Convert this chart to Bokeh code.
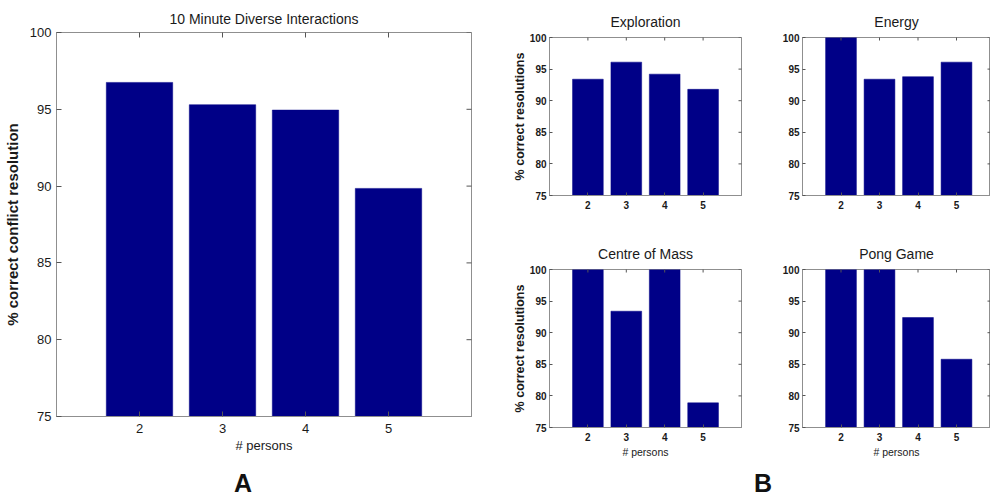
import math

from bokeh.plotting import figure
from bokeh.models import FixedTicker, Range1d, Title, Label
from bokeh.layouts import column, row
from bokeh.embed import file_html
from bokeh.resources import INLINE

# ---- data -------------------------------------------------------------
persons = [2, 3, 4, 5]
x_ticks = [2, 3, 4, 5]
y_ticks = [75, 80, 85, 90, 95, 100]

diverse_10min = [96.75, 95.3, 94.95, 89.85]

exploration = [93.4, 96.1, 94.2, 91.8]
energy = [100.0, 93.4, 93.8, 96.1]
centre_of_mass = [100.0, 93.4, 100.0, 78.9]
pong_game = [100.0, 100.0, 92.4, 85.8]

# ---- style ------------------------------------------------------------
BAR = "#000087"
FRAME = "#8f8f8f"
TICK = "#555555"
TEXT = "#1a1a1a"
SANS = "Liberation Sans"
Y0, Y1 = 75, 100


def style_axes(p, x_end, sizes, xlabel, ylabel, tick_len, x_standoff,
               y_standoff, ylabel_standoff, tick_bold):
    """MATLAB style boxed axes with inward ticks on all four sides."""
    tick_px, xlabel_px, ylabel_px = sizes
    p.x_range = Range1d(1, x_end)
    p.y_range = Range1d(Y0, Y1)
    for ax in p.axis:
        ax.major_tick_in = tick_len
        ax.major_tick_out = 0
        ax.minor_tick_line_color = None
        ax.axis_line_color = FRAME
        ax.major_tick_line_color = TICK
        ax.major_label_text_color = TEXT
        ax.major_label_text_font = SANS
        ax.major_label_text_font_size = tick_px
        ax.major_label_text_font_style = "bold" if tick_bold else "normal"
    p.xaxis.ticker = FixedTicker(ticks=x_ticks)
    p.yaxis.ticker = FixedTicker(ticks=y_ticks)
    p.xaxis.major_label_standoff = x_standoff
    p.yaxis.major_label_standoff = y_standoff
    if xlabel:
        p.xaxis.axis_label = xlabel
        p.xaxis.axis_label_text_font = SANS
        p.xaxis.axis_label_text_font_size = xlabel_px
        p.xaxis.axis_label_text_font_style = "normal"
        p.xaxis.axis_label_text_color = TEXT
        p.xaxis.axis_label_standoff = 2
    if ylabel:
        p.yaxis.axis_label = ylabel
        p.yaxis.axis_label_text_font = SANS
        p.yaxis.axis_label_text_font_size = ylabel_px
        p.yaxis.axis_label_text_font_style = "bold"
        p.yaxis.axis_label_text_color = TEXT
        p.yaxis.axis_label_standoff = ylabel_standoff
    p.outline_line_color = FRAME
    p.grid.visible = False
    # inward tick marks on the top and right edges (half of each dash is
    # clipped away by the frame)
    p.scatter(x=x_ticks, y=[Y1] * len(x_ticks), marker="dash",
              angle=math.pi / 2, size=2 * tick_len, line_color=TICK,
              line_width=1)
    p.scatter(x=[x_end] * len(y_ticks), y=y_ticks, marker="dash",
              size=2 * tick_len, line_color=TICK, line_width=1)


def panel(width, height, borders, title, title_px, title_gap, values,
          x_end=6.0, xlabel=None, ylabel=None, big=False):
    left, right, top, bottom = borders
    p = figure(width=width, height=height, output_backend="svg",
               toolbar_location=None, min_border_left=left,
               min_border_right=right, min_border_top=top,
               min_border_bottom=bottom, background_fill_color="white",
               border_fill_color="white")
    p.vbar(x=persons, top=values, bottom=Y0, width=0.8, fill_color=BAR,
           line_color=BAR, line_width=0.5)
    if big:
        style_axes(p, x_end, ("13px", "13px", "15px"), xlabel, ylabel,
                   5, 7, 5, 6, False)
    else:
        style_axes(p, x_end, ("10px", "10.5px", "12.5px"), xlabel, ylabel,
                   3, 5, 3, 0, True)
    p.title = Title(text=title, text_font=SANS, text_font_size=title_px,
                    text_font_style="normal", text_color=TEXT,
                    align="center", standoff=title_gap)
    return p


# Panel A: the long diverse-interaction run
fig_a = panel(490, 460, (51, 19, 32, 44), "10 Minute Diverse Interactions",
              "14px", 12, diverse_10min, xlabel="# persons",
              ylabel="% correct conflict resolution", big=True)

# Panel B: the four individual games
fig_expl = panel(285, 232, (59, 34, 37, 37), "Exploration", "14px", 15,
                 exploration, ylabel="% correct resolutions")
fig_energy = panel(215, 232, (27, 0, 37, 37), "Energy", "14px", 15, energy,
                   x_end=1 + 188 / 38.5)
fig_com = panel(285, 228, (59, 34, 37, 33), "Centre of Mass", "14px", 15,
                centre_of_mass, xlabel="# persons",
                ylabel="% correct resolutions")
fig_pong = panel(215, 228, (27, 0, 37, 33), "Pong Game", "14px", 15,
                 pong_game, x_end=1 + 188 / 38.5, xlabel="# persons")

# Strip carrying the panel letters
strip = figure(width=990, height=38, output_backend="svg",
               toolbar_location=None, min_border=0,
               x_range=Range1d(0, 990), y_range=Range1d(38, 0))
strip.axis.visible = False
strip.grid.visible = False
strip.outline_line_color = None
for letter, lx in (("A", 242.5), ("B", 762.5)):
    strip.add_layout(Label(x=lx, y=22, text=letter, text_font=SANS,
                           text_font_size="25px", text_font_style="bold",
                           text_color="#111111", text_align="center",
                           text_baseline="middle"))

layout = column(
    row(fig_a, column(row(fig_expl, fig_energy), row(fig_com, fig_pong))),
    strip,
)

open("out.html", "w").write(file_html(layout, INLINE))
